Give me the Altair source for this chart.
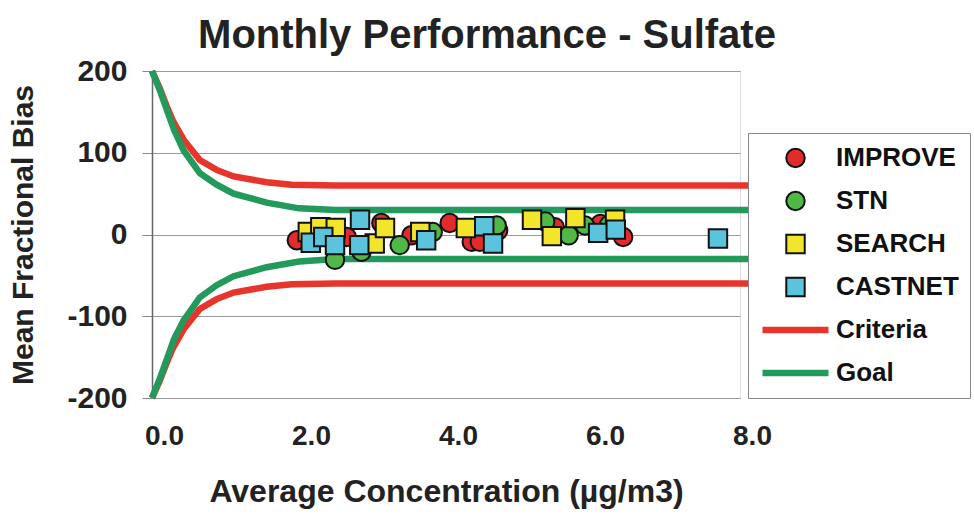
import altair as alt
import pandas as pd

# ---- data ----
improve_x = [1.97, 2.65, 3.12, 3.53, 4.05, 4.35, 4.46, 4.71, 5.48, 6.10, 6.41]
improve_y = [-7, -3, 14, -1, 14, -9, -9, 5, 9, 13, -3]

stn_x = [2.49, 2.85, 3.37, 3.82, 4.69, 5.35, 5.67, 5.89, 6.22]
stn_y = [-31, -21, -13, 3, 11, 16, -1, 11, 12]

search_x = [2.12, 2.29, 2.50, 3.03, 3.17, 3.65, 4.27, 5.17, 5.44, 5.76, 6.30]
search_y = [3, 9, 8, -11, 8, 3, 8, 18, -2, 20, 18]

castnet_x = [2.16, 2.33, 2.49, 2.83, 2.82, 3.73, 4.52, 4.64, 6.07, 6.31, 7.70]
castnet_y = [-10, -3, -13, 18, -13, -7, 10, -11, 2, 6, -5]

criteria_x = [0, 0.1, 0.2, 0.29, 0.43, 0.65, 0.88, 1.11, 1.56, 1.9, 2.5, 3.1, 8.14]
criteria_upper = [200, 180, 157, 138, 116, 91, 79, 71, 64, 61, 60, 60, 60]
criteria_lower = [-200, -180, -157, -138, -116, -91, -79, -71, -64, -61, -60, -60, -60]

goal_x = [0, 0.1, 0.2, 0.3, 0.43, 0.65, 0.88, 1.11, 1.56, 2.0, 2.5, 8.14]
goal_upper = [200, 178, 153, 128, 103, 75, 61, 50, 39, 32, 30, 30]
goal_lower = [-200, -178, -153, -128, -105, -77, -62, -51, -40, -33, -30, -30]

series = ["IMPROVE", "STN", "SEARCH", "CASTNET", "Criteria", "Goal"]
fills = ["#e42b2b", "#4fb846", "#f3e52c", "#5cc3dc", "#e8352b", "#23995c"]
strokes = ["#111111", "#111111", "#111111", "#111111", "#e8352b", "#23995c"]
shapes = ["circle", "circle", "square", "square", "stroke", "stroke"]
sizes = [340, 340, 340, 340, 4356, 4356]
widths = [2, 2, 2, 2, 6.5, 6.5]

# ---- tables ----
rows = []
for name, xs, ys in [("IMPROVE", improve_x, improve_y), ("STN", stn_x, stn_y),
                     ("SEARCH", search_x, search_y), ("CASTNET", castnet_x, castnet_y)]:
    for a, b in zip(xs, ys):
        rows.append({"conc": a, "mfb": b, "series": name})
pts = pd.DataFrame(rows)

lrows = []
for name, xs, up, lo in [("Criteria", criteria_x, criteria_upper, criteria_lower),
                         ("Goal", goal_x, goal_upper, goal_lower)]:
    for a, b in zip(xs, up):
        lrows.append({"conc": a, "mfb": b, "series": name, "part": "upper"})
    for a, b in zip(xs, lo):
        lrows.append({"conc": a, "mfb": b, "series": name, "part": "lower"})
lines = pd.DataFrame(lrows)

FONT = "Liberation Sans"

xscale = alt.Scale(domain=[0, 8], nice=False, clamp=False)
yscale = alt.Scale(domain=[-200, 200], nice=False)

x_enc = alt.X("conc:Q", scale=xscale,
              axis=alt.Axis(values=[0, 2, 4, 6, 8], format=".1f", grid=False, domain=False,
                            ticks=False, labelFontSize=28, labelFont=FONT, labelFontWeight="bold",
                            labelColor="#222222", labelPadding=24, labelOffset=12,
                            labelFlush=False, labelOverlap=False,
                            title="Average Concentration (µg/m3)", titleFont=FONT,
                            titleFontSize=32, titleFontWeight="bold", titleColor="#222222",
                            titlePadding=26))
y_enc = alt.Y("mfb:Q", scale=yscale,
              axis=alt.Axis(values=[-200, -100, 0, 100, 200], grid=True, gridColor="#9a9a9a",
                            gridWidth=1.2, domain=True, domainColor="#666666", domainWidth=1.5,
                            ticks=True, tickSize=10, tickColor="#888888", labelFontSize=30,
                            labelFont=FONT, labelFontWeight="bold", labelColor="#222222",
                            labelPadding=15, labelExpr="'' + datum.value", labelFlush=False,
                            title="Mean Fractional Bias", titleFont=FONT,
                            titleFontSize=30, titleFontWeight="bold", titleColor="#222222",
                            titlePadding=28))

sc_fill = alt.Scale(type="ordinal", domain=series, range=fills)
sc_stroke = alt.Scale(type="ordinal", domain=series, range=strokes)
sc_shape = alt.Scale(domain=series, range=shapes)
sc_size = alt.Scale(type="ordinal", domain=series, range=sizes)
sc_width = alt.Scale(type="ordinal", domain=series, range=widths)

leg = alt.Legend(title=None, orient="none", legendX=596, legendY=62, labelFont=FONT,
                 labelFontSize=26, labelFontWeight="bold", labelColor="#111111",
                 strokeColor="#888888", fillColor="white", padding=11, rowPadding=15,
                 clipHeight=28, labelOffset=4, symbolOpacity=1, labelLimit=124)

line_layer = alt.Chart(lines).mark_line(clip=False, strokeCap="butt").encode(
    x=x_enc, y=y_enc,
    stroke=alt.Stroke("series:N", scale=sc_stroke, legend=leg),
    strokeWidth=alt.StrokeWidth("series:N", scale=sc_width, legend=leg),
    detail="part:N",
    order="conc:Q",
)

point_layer = alt.Chart(pts).mark_point(opacity=1, fillOpacity=1, clip=False).encode(
    x=x_enc, y=y_enc,
    fill=alt.Fill("series:N", scale=sc_fill, legend=leg),
    stroke=alt.Stroke("series:N", scale=sc_stroke, legend=leg),
    shape=alt.Shape("series:N", scale=sc_shape, legend=leg),
    size=alt.Size("series:N", scale=sc_size, legend=leg),
    strokeWidth=alt.StrokeWidth("series:N", scale=sc_width, legend=leg),
)

chart = alt.layer(line_layer, point_layer).properties(
    width=588, height=327,
    autosize=alt.AutoSizeParams(type="none"),
    padding={"left": 152, "top": 71, "right": 234, "bottom": 119},
    title=alt.TitleParams("Monthly Performance - Sulfate", font=FONT, fontSize=40,
                          fontWeight="bold", color="#222222", anchor="middle", dx=41,
                          offset=0),
).configure_view(stroke="#8a8a8a", strokeWidth=1.5).configure(background="white")

chart.save("out.html", embed_options={"renderer": "svg", "actions": False})
